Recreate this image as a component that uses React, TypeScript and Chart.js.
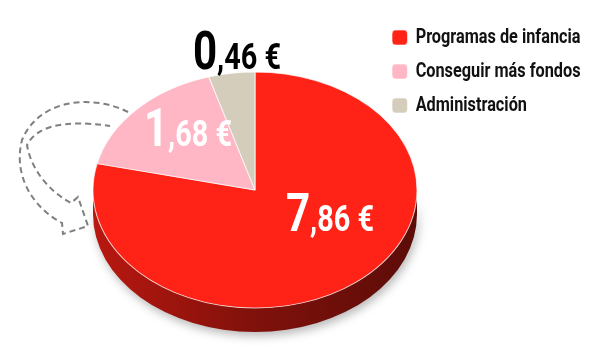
import { useEffect, useRef } from 'react';
import { Chart, registerables } from 'chart.js';

Chart.register(...registerables);

// ---- data ----
const categories = ['Programas de infancia', 'Conseguir más fondos', 'Administración'];
const values = [7.86, 1.68, 0.46];
const sliceColors = ['#FF2216', '#FFB7C5', '#D4CDBB'];
const labelColors = ['#FFFFFF', '#FFFFFF', '#000000'];

// ---- style / layout ----
const W = 600;
const H = 354;
const PIE = { x: 255, y: 190, rx: 162, ry: 118, depth: 24 };
const LABEL_ANCHORS = [[330, 231], [188, 146], [237, 69]]; // centre x, baseline y
const LEGEND_BOX_X = 392;
const LEGEND_TOP = 14;
const LEGEND_SQ = 0.775;
const FONT = 'Roboto, "Open Sans", "DejaVu Sans", sans-serif';
const BIG_SIZE = 54;
const SMALL_SIZE = 37;
const LABEL_SQ = 0.78;

function splitValue(v: number): [string, string] {
  const s = v.toFixed(2).replace('.', ',');
  const i = s.indexOf(',');
  return [s.slice(0, i), s.slice(i) + ' €'];
}

function shade(hex: string, f: number) {
  const n = parseInt(hex.slice(1), 16);
  const r = Math.round(((n >> 16) & 255) * f);
  const g = Math.round(((n >> 8) & 255) * f);
  const b = Math.round((n & 255) * f);
  return `rgb(${r},${g},${b})`;
}

const arrowPlugin = {
  id: 'loopArrow',
  beforeDatasetsDraw(chart: any) {
    const ctx = chart.ctx as CanvasRenderingContext2D;
    ctx.save();
    ctx.strokeStyle = '#7f7f7f';
    ctx.lineWidth = 2;
    ctx.setLineDash([6, 4]);
    ctx.beginPath();
    ctx.moveTo(128, 112);
    ctx.bezierCurveTo(95, 95, 40, 97, 22, 140);
    ctx.bezierCurveTo(13, 175, 32, 207, 62, 223);
    ctx.lineTo(63, 234);
    ctx.lineTo(88, 226);
    ctx.lineTo(78, 197);
    ctx.lineTo(71, 203);
    ctx.bezierCurveTo(50, 192, 31, 170, 27, 145);
    ctx.bezierCurveTo(36, 127, 62, 119, 110, 126);
    ctx.stroke();
    ctx.restore();
  },
};

const pie3dPlugin = {
  id: 'pie3d',
  beforeDatasetsDraw(chart: any) {
    const meta = chart.getDatasetMeta(0);
    const arcs = meta.data;
    if (!arcs.length) return;
    const ctx = chart.ctx as CanvasRenderingContext2D;
    const a0 = arcs[0].getProps(['x', 'y', 'outerRadius'], true);

    // side walls (visible lower half of the ellipse)
    ctx.save();
    ctx.shadowColor = 'rgba(0,0,0,0.28)';
    ctx.shadowBlur = 10;
    ctx.shadowOffsetY = 4;
    ctx.shadowOffsetX = 2;
    arcs.forEach((arc: any, i: number) => {
      const p = arc.getProps(['startAngle', 'endAngle'], true);
      for (const k of [-1, 0, 1]) {
        const s = Math.max(p.startAngle + 2 * Math.PI * k, 0);
        const e = Math.min(p.endAngle + 2 * Math.PI * k, Math.PI);
        if (e <= s) continue;
        const g = ctx.createLinearGradient(PIE.x - PIE.rx, 0, PIE.x + PIE.rx, 0);
        g.addColorStop(0, shade(sliceColors[i], 0.72));
        g.addColorStop(0.5, shade(sliceColors[i], 0.5));
        g.addColorStop(1, shade(sliceColors[i], 0.36));
        ctx.fillStyle = g;
        ctx.beginPath();
        ctx.ellipse(PIE.x, PIE.y, PIE.rx, PIE.ry, 0, s, e);
        ctx.ellipse(PIE.x, PIE.y + PIE.depth, PIE.rx, PIE.ry, 0, e, s, true);
        ctx.closePath();
        ctx.fill();
      }
    });
    ctx.restore();

    // squash the library's circular pie into the top ellipse
    ctx.save();
    ctx.translate(PIE.x, PIE.y);
    ctx.scale(PIE.rx / a0.outerRadius, PIE.ry / a0.outerRadius);
    ctx.translate(-a0.x, -a0.y);
  },
  afterDatasetsDraw(chart: any) {
    const ctx = chart.ctx as CanvasRenderingContext2D;
    ctx.restore();
    // value labels
    values.forEach((v, i) => {
      const [big, small] = splitValue(v);
      const [ax, ay] = LABEL_ANCHORS[i];
      ctx.save();
      ctx.fillStyle = labelColors[i];
      ctx.textBaseline = 'alphabetic';
      ctx.textAlign = 'left';
      ctx.font = `bold ${BIG_SIZE}px ${FONT}`;
      const wb = ctx.measureText(big).width;
      ctx.font = `bold ${SMALL_SIZE}px ${FONT}`;
      const ws = ctx.measureText(small).width;
      const total = (wb + ws) * LABEL_SQ;
      ctx.translate(ax - total / 2, ay);
      ctx.scale(LABEL_SQ, 1);
      ctx.font = `bold ${BIG_SIZE}px ${FONT}`;
      ctx.fillText(big, 0, 0);
      ctx.font = `bold ${SMALL_SIZE}px ${FONT}`;
      ctx.fillText(small, wb, 0);
      ctx.restore();
    });
  },
};

const legendPosPlugin = {
  id: 'legendPos',
  afterLayout(chart: any) {
    const l = chart.legend;
    if (!l) return;
    const pad = l.options.labels.padding;
    const w = l.width;
    const h = l.height;
    l.left = LEGEND_BOX_X - pad;
    l.top = LEGEND_TOP;
    l.right = l.left + w;
    l.bottom = l.top + h;
    if (!l.__squeezed) {
      l.__squeezed = true;
      const orig = l.draw;
      l.draw = function (...args: any[]) {
        const ctx = chart.ctx as CanvasRenderingContext2D;
        ctx.save();
        ctx.translate(LEGEND_BOX_X, 0);
        ctx.scale(LEGEND_SQ, 1);
        ctx.translate(-LEGEND_BOX_X, 0);
        orig.apply(this, args);
        ctx.restore();
      };
    }
  },
};

export default function App() {
  const ref = useRef<HTMLCanvasElement | null>(null);
  useEffect(() => {
    if (!ref.current) return;
    const chart = new Chart(ref.current, {
      type: 'pie',
      data: {
        labels: categories,
        datasets: [
          {
            data: values,
            backgroundColor: sliceColors,
            borderColor: 'rgba(255,255,255,0.7)',
            borderWidth: 1,
            clip: false as any,
          },
        ],
      },
      options: {
        responsive: false,
        animation: false,
        layout: { padding: 20 },
        plugins: {
          legend: {
            position: 'right',
            align: 'start',
            labels: {
              boxWidth: 20,
              boxHeight: 15,
              useBorderRadius: true,
              borderRadius: 4,
              padding: 13,
              color: '#111111',
              font: { family: FONT, size: 21, weight: 'bold' },
            },
          },
          tooltip: { enabled: false },
        },
      } as any,
      plugins: [arrowPlugin, pie3dPlugin, legendPosPlugin],
    });
    return () => chart.destroy();
  }, []);
  return (
    <div style={{ position: 'absolute', left: 0, top: 0, width: W, height: H, background: '#fff' }}>
      <canvas ref={ref} width={W} height={H} style={{ width: W, height: H, display: 'block' }} />
    </div>
  );
}
